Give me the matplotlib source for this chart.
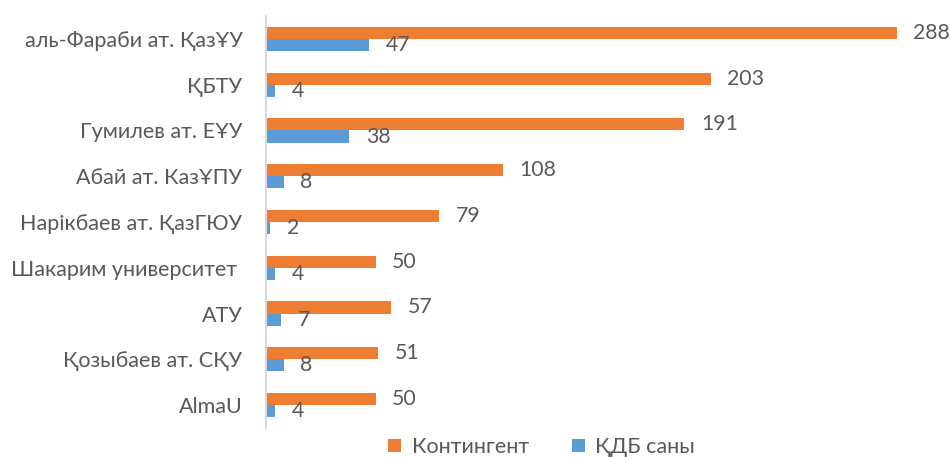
import matplotlib.pyplot as plt
import numpy as np

plt.rcParams['font.family'] = ['Lato', 'DejaVu Sans']

# данные
categories = ['аль-Фараби ат. ҚазҰУ', 'ҚБТУ', 'Гумилев ат. ЕҰУ', 'Абай ат. КазҰПУ',
              'Нарікбаев ат. ҚазГЮУ', 'Шакарим университет ', 'АТУ',
              'Қозыбаев ат. СҚУ', 'AlmaU']
contingent = [288, 203, 191, 108, 79, 50, 57, 51, 50]
kdb = [47, 4, 38, 8, 2, 4, 7, 8, 4]

orange = '#ED7D31'
blue = '#5B9BD5'
grey = '#595959'

fig = plt.figure(figsize=(9.5, 4.57), dpi=100)
ax = fig.add_axes([0.28, 0.0635, 0.6916, 0.9015])

y = np.arange(len(categories))
h = 0.265
b1 = ax.barh(y - h / 2, contingent, height=h, color=orange, label='Контингент')
b2 = ax.barh(y + h / 2, kdb, height=h, color=blue, label='ҚДБ саны')

# подписи значений
for rect, v in zip(b1, contingent):
    ax.annotate(str(v), (v, rect.get_y() + rect.get_height() / 2),
                xytext=(12, 0), textcoords='offset points',
                va='center', ha='left', fontsize=15.3, color=grey, annotation_clip=False)
for rect, v in zip(b2, kdb):
    ax.annotate(str(v), (v, rect.get_y() + rect.get_height() / 2),
                xytext=(12, 0), textcoords='offset points',
                va='center', ha='left', fontsize=15.3, color=grey, annotation_clip=False)

ax.set_xlim(0, 300)
ax.set_ylim(len(categories) - 0.5, -0.5)
ax.set_yticks(y)
ax.set_yticklabels(categories, fontsize=15.5, color=grey)
ax.tick_params(axis='y', length=0, pad=17)
ax.set_xticks([])
for s in ['top', 'right', 'bottom']:
    ax.spines[s].set_visible(False)
ax.spines['left'].set_color('#D9D9D9')
ax.spines['left'].set_linewidth(1.5)

fig.legend(handles=[b1, b2], loc='center', bbox_to_anchor=(0.57, 0.022), ncol=2,
           frameon=False, fontsize=15.5, labelcolor=grey, handlelength=0.6,
           handleheight=0.6, handletextpad=0.5, columnspacing=2.0)

plt.savefig('out.png', dpi=100)
